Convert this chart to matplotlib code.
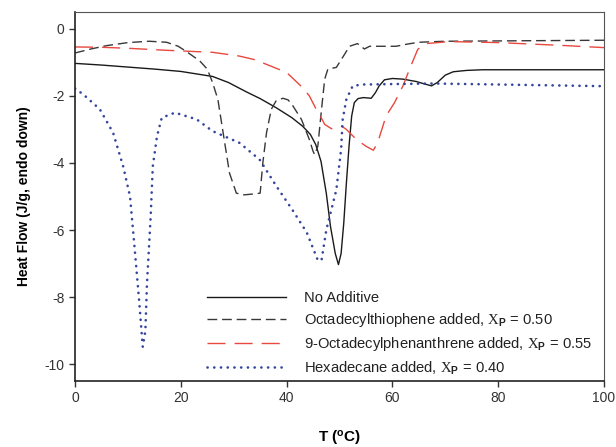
import matplotlib
matplotlib.use("Agg")
import matplotlib.pyplot as plt

plt.rcParams["font.family"] = ["Liberation Sans", "DejaVu Sans"]
plt.rcParams["mathtext.fontset"] = "custom"
plt.rcParams["mathtext.rm"] = "Liberation Serif"
plt.rcParams["mathtext.bf"] = "Liberation Sans:bold"
plt.rcParams["axes.unicode_minus"] = False

# No additive (solid)
t_none = [0, 5, 10, 15, 20, 26, 29, 32.4, 35, 38, 41, 43, 44.5, 45.5, 46.5, 47.5,
          48.3, 49.2, 49.8, 50.3, 50.8, 51.3, 51.8, 52.3, 52.8, 53.5, 54.5, 56,
          56.8, 57.5, 58.5, 60, 62, 64.5, 66, 67.4, 68.5, 70, 71.5, 74, 77, 85, 100]
hf_none = [-1.03, -1.08, -1.14, -1.2, -1.27, -1.42, -1.6, -1.88, -2.08, -2.35, -2.65,
           -2.9, -3.15, -3.45, -3.95, -4.9, -5.9, -6.7, -7.03, -6.7, -5.8, -4.6, -3.5,
           -2.6, -2.2, -2.08, -2.05, -2.07, -1.9, -1.7, -1.52, -1.48, -1.5, -1.57,
           -1.64, -1.7, -1.6, -1.38, -1.28, -1.24, -1.22, -1.22, -1.22]

# Octadecylthiophene, Xp = 0.50 (short dash)
t_thio = [0, 3, 6, 10, 14, 17.3, 19.5, 21, 23.6, 25, 26, 27, 28, 29.2, 30.5, 32, 34,
          35, 35.5, 36.2, 37.1, 38, 39.3, 40.3, 41.2, 42.8, 44.3, 45, 45.3, 45.9,
          46.6, 47.2, 47.8, 49.4, 50.4, 51.9, 53.4, 54.7, 55.7, 58, 60.7, 63, 65,
          70, 80, 100]
hf_thio = [-0.72, -0.6, -0.5, -0.41, -0.37, -0.4, -0.52, -0.67, -0.96, -1.2, -1.6,
           -2.1, -3.1, -4.3, -4.9, -4.95, -4.92, -4.9, -4.0, -3.1, -2.4, -2.15, -2.07,
           -2.12, -2.3, -2.7, -3.3, -3.65, -3.75, -3.5, -2.4, -1.5, -1.2, -1.15, -0.9,
           -0.52, -0.44, -0.6, -0.52, -0.52, -0.52, -0.45, -0.4, -0.37, -0.36, -0.34]

# 9-Octadecylphenanthrene, Xp = 0.55 (long dash)
t_phen = [0, 5, 10, 17.3, 26, 31, 34, 36.2, 40, 43, 44.3, 45.6, 46.2, 47.2, 48.5,
          50.4, 51.3, 53.2, 55, 56.4, 57.2, 58.8, 60.4, 62, 63.5, 64.8, 66.4, 70.8,
          80, 92.8, 100]
hf_phen = [-0.54, -0.55, -0.58, -0.64, -0.7, -0.81, -0.92, -1.06, -1.3, -1.75, -2.0,
           -2.4, -2.55, -2.85, -2.98, -2.9, -3.0, -3.3, -3.5, -3.62, -3.4, -2.6, -2.2,
           -1.7, -1.1, -0.61, -0.44, -0.38, -0.41, -0.5, -0.56]

# Hexadecane, Xp = 0.40 (dotted)
t_hexa = [0, 1.6, 4.7, 7.2, 9.1, 10.4, 11.3, 12.1, 12.8, 13.3, 13.6, 14.3, 14.7,
          15.5, 16.4, 18.9, 23, 26, 31.1, 34.9, 38.1, 41.1, 43.8, 45.9, 46.6, 47.5,
          49.4, 50.3, 50.6, 51.3, 52.5, 54.4, 67.5, 80, 100]
hf_hexa = [-1.78, -1.96, -2.4, -3.1, -4.1, -5.0, -6.6, -8.07, -9.48, -9.0, -7.6,
           -5.6, -4.1, -3.2, -2.65, -2.5, -2.7, -3.05, -3.4, -3.9, -4.7, -5.4, -6.07,
           -6.9, -6.9, -6.0, -4.8, -3.6, -2.7, -2.1, -1.7, -1.66, -1.63, -1.66, -1.71]

labels = ["No Additive",
          r"Octadecylthiophene added, $\mathrm{X}_\mathbf{P}$ = 0.50",
          r"9-Octadecylphenanthrene added, $\mathrm{X}_\mathbf{P}$ = 0.55",
          r"Hexadecane added, $\mathrm{X}_\mathbf{P}$ = 0.40"]

fig = plt.figure(figsize=(6.16, 4.47), dpi=100)
ax = fig.add_axes([0.1218, 0.1477, 0.8587, 0.8253])

ax.plot(t_none, hf_none, color="#1a1a1a", lw=1.0, label=labels[0])
ax.plot(t_thio, hf_thio, color="#383838", lw=1.0, dashes=(7, 3.5), label=labels[1])
ax.plot(t_phen, hf_phen, color="#e8483e", lw=1.0, dashes=(13, 6.5), label=labels[2])
ax.plot(t_hexa, hf_hexa, color="#34459e", lw=1.9, dashes=(0.05, 2.5),
        dash_capstyle="round", label=labels[3])

ax.set_xlim(0, 100)
ax.set_ylim(-10.5, 0.5)
ax.set_xticks([0, 20, 40, 60, 80, 100])
ax.set_yticks([0, -2, -4, -6, -8, -10])
ax.tick_params(direction="out", length=4, width=1, labelsize=10, colors="#333333",
               labelcolor="#333333")
for side in ["left", "bottom"]:
    ax.spines[side].set_linewidth(1.2)
    ax.spines[side].set_color("#222222")
for side in ["top", "right"]:
    ax.spines[side].set_linewidth(0.8)
    ax.spines[side].set_color("#555555")

ax.set_xlabel(r"T ($\mathregular{^o}$C)", fontsize=11, fontweight="bold", labelpad=17)
ax.set_ylabel("Heat Flow (J/g, endo down)", fontsize=10, fontweight="bold", labelpad=10)

ax.legend(loc="lower left", bbox_to_anchor=(0.249, 0.012), frameon=False,
          fontsize=10.6, handlelength=5.4, handletextpad=1.23, labelspacing=0.4,
          borderpad=0, borderaxespad=0, labelcolor="#222222")

fig.savefig("out.png", dpi=100)
